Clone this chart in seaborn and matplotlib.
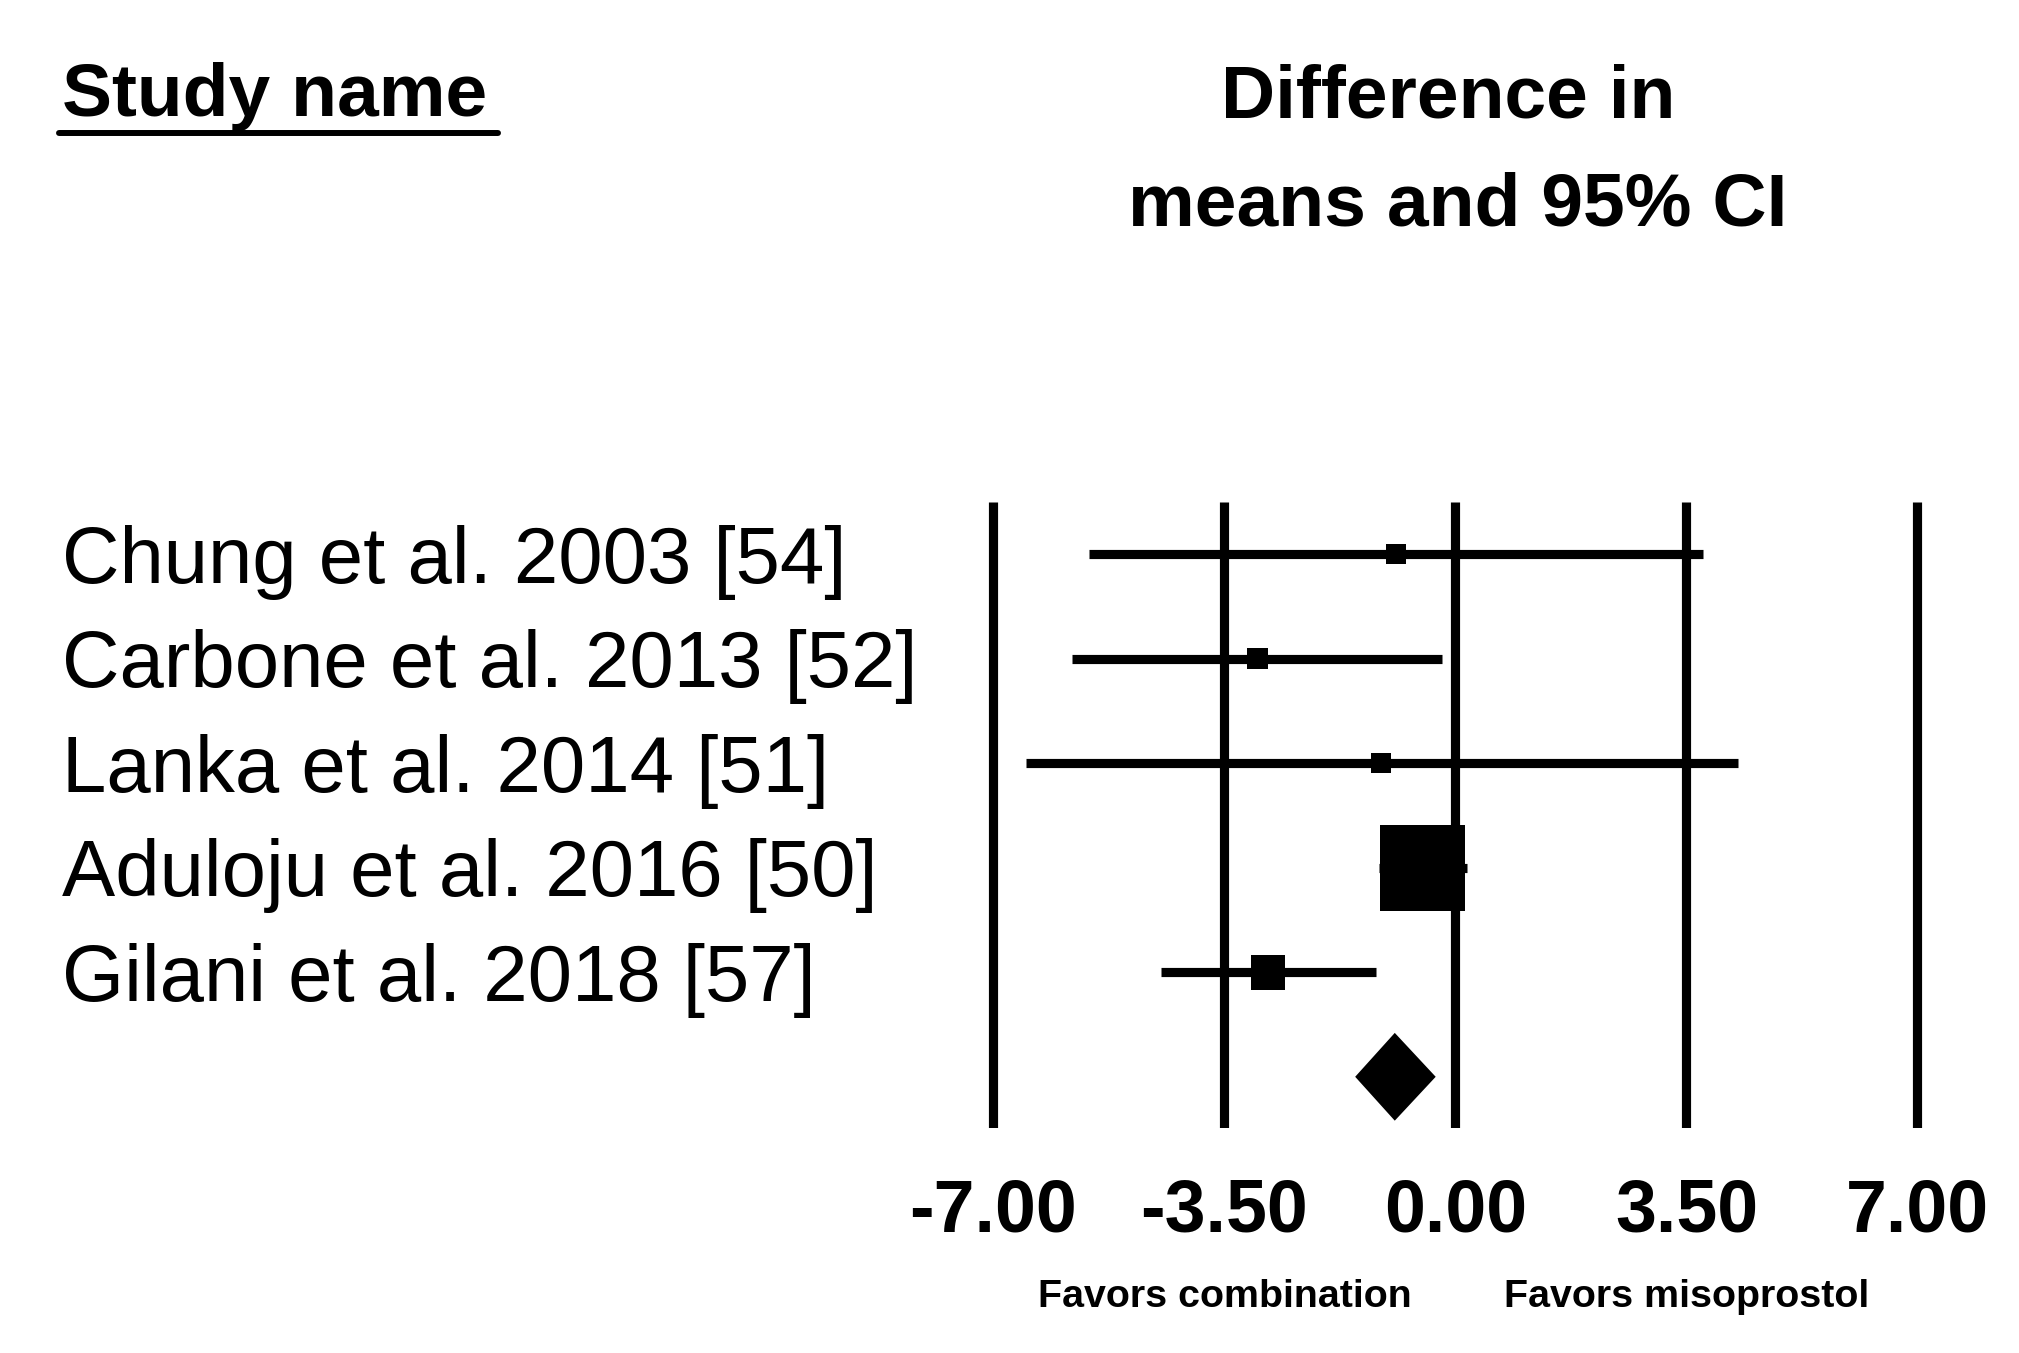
"""
Forest plot: difference in means and 95% CI, combination vs misoprostol.
"""

import numpy as np
import pandas as pd
import matplotlib
matplotlib.use("Agg")
import matplotlib.pyplot as plt
import seaborn as sns
from matplotlib.transforms import blended_transform_factory
from matplotlib.lines import Line2D

# Data
studies = [
    "Chung et al. 2003 [54]",
    "Carbone et al. 2013 [52]",
    "Lanka et al. 2014 [51]",
    "Aduloju et al. 2016 [50]",
    "Gilani et al. 2018 [57]",
]
mean_diff = [-0.90, -3.00, -1.13, -0.50, -2.84]
ci_lower = [-5.56, -5.81, -6.51, -1.16, -4.46]
ci_upper = [3.75, -0.20, 4.28, 0.17, -1.20]
weights = [4.1, 4.5, 4.1, 75.0, 12.3]  # relative weight (%)

pooled_mean = -0.92
pooled_lower = -1.52
pooled_upper = -0.30

xticks = [-7.00, -3.50, 0.00, 3.50, 7.00]
xticklabels = ["-7.00", "-3.50", "0.00", "3.50", "7.00"]

sns.set_style("white")
plt.rcParams['font.family'] = ['Liberation Sans', 'DejaVu Sans']
plt.rcParams['text.color'] = 'black'
plt.rcParams['xtick.color'] = 'black'
plt.rcParams['axes.labelcolor'] = 'black'

fig = plt.figure(figsize=(20.19, 13.53), dpi=100)
ax = fig.add_axes([0.47246, 0.16630, 0.49688, 0.46268])

df = pd.DataFrame({
    "study": studies,
    "row": np.arange(len(studies)),
    "mean": mean_diff,
    "lo": ci_lower,
    "hi": ci_upper,
    "weight": weights,
})

LW = 6.6

# Reference lines at the tick positions
ax.vlines(xticks, -0.5, len(studies) + 0.49, color="black", lw=LW, capstyle="butt", zorder=1)

# Confidence intervals
ax.hlines(df["row"], df["lo"], df["hi"], color="black", lw=LW, zorder=2)

# Point estimates, box area proportional to weight
sns.scatterplot(
    data=df, x="mean", y="row", size="weight",
    sizes=(0, 3833), size_norm=(0, 75),
    marker="s", color="black", linewidth=0, legend=False, zorder=3, ax=ax
)

# Pooled estimate diamond
pooled_row = len(studies)
half_h = 0.42
ax.fill(
    [pooled_lower, pooled_mean, pooled_upper, pooled_mean],
    [pooled_row, pooled_row - half_h, pooled_row, pooled_row + half_h],
    color="black", lw=0, zorder=3
)

ax.set_xlim(-7.6, 7.6)
ax.set_ylim(len(studies) + 0.49, -0.5)
ax.set_xlabel("")
ax.set_ylabel("")
ax.set_yticks([])
ax.set_xticks(xticks)
ax.set_xticklabels(xticklabels, fontsize=53, fontweight="bold", color="black")
ax.tick_params(axis="x", length=0, pad=36)
for s in ax.spines.values():
    s.set_visible(False)

# Study names on the left
trans = blended_transform_factory(fig.transFigure, ax.transData)
for _, r in df.iterrows():
    ax.annotate(r["study"], xy=(62 / 2019, r["row"]), xycoords=trans,
                xytext=(0, -20.5), textcoords="offset points",
                fontsize=57.4, va="baseline", ha="left", color="black",
                annotation_clip=False)

# Headers
fig.text(62 / 2019, 1 - 116 / 1353, "Study name", fontsize=54, fontweight="bold",
         ha="left", va="baseline", color="black")
fig.add_artist(Line2D([59 / 2019, 498 / 2019], [1 - 133 / 1353] * 2,
                      color="black", lw=4.3, transform=fig.transFigure))
fig.text(1448 / 2019, 1 - 118 / 1353, "Difference in", fontsize=54, fontweight="bold",
         ha="center", va="baseline", color="black")
fig.text(1458 / 2019, 1 - 225 / 1353, "means and 95% CI", fontsize=54, fontweight="bold",
         ha="center", va="baseline", color="black")

# Direction labels under the axis
trans_fav = blended_transform_factory(ax.transData, fig.transFigure)
ax.text(-3.5, 1 - 1307 / 1353, "Favors combination", transform=trans_fav,
        fontsize=28.4, fontweight="bold", ha="center", va="baseline", color="black")
ax.text(3.5, 1 - 1307 / 1353, "Favors misoprostol", transform=trans_fav,
        fontsize=28.4, fontweight="bold", ha="center", va="baseline", color="black")

plt.savefig("out.png", dpi=100)
plt.close()
